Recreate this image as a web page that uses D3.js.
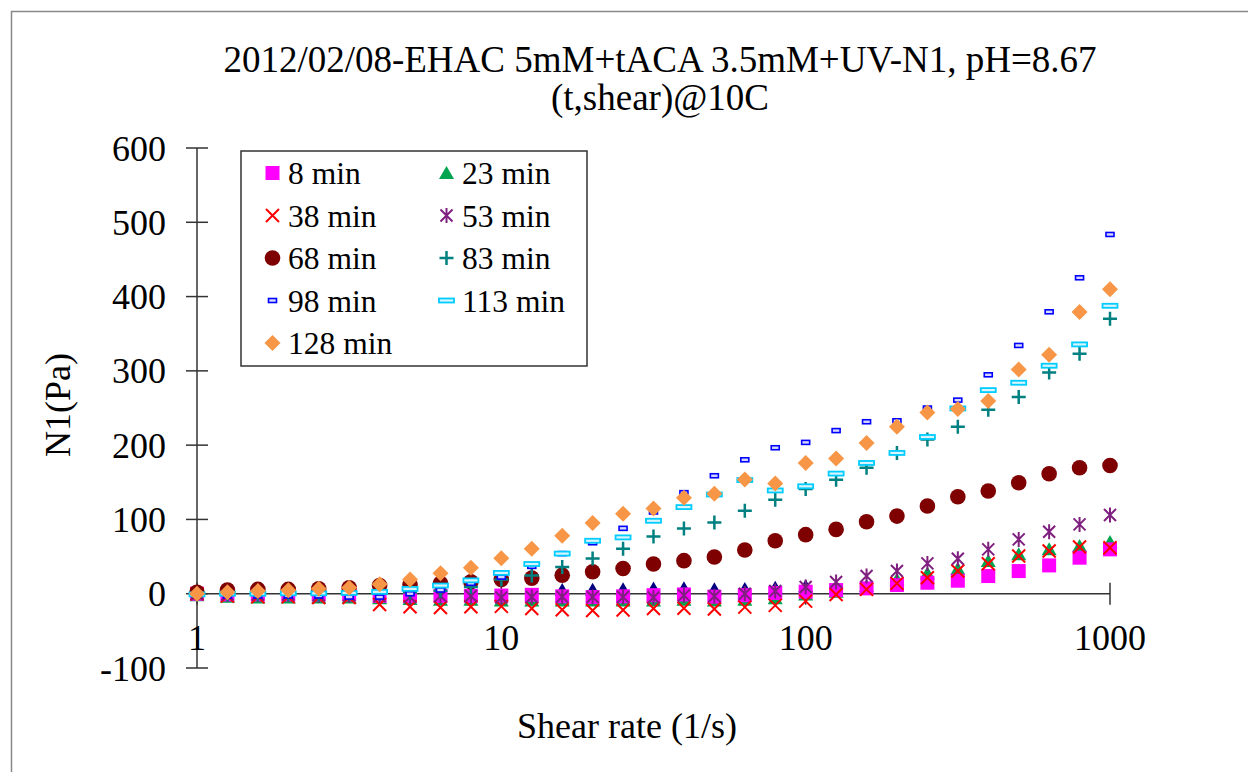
<!DOCTYPE html>
<html>
<head>
<meta charset="utf-8">
<script src="https://cdn.jsdelivr.net/npm/d3@7"></script>
<style>
  body { margin: 0; background: #fff; }
  svg { display: block; font-family: "Liberation Serif", "Times New Roman", serif; }
</style>
</head>
<body>
<div id="chart"></div>
<script>
// N1 vs shear rate, measured at several times after UV exposure.
const shearRate = [1, 1.259, 1.585, 1.995, 2.512, 3.162, 3.981, 5.012, 6.31, 7.943,
  10, 12.59, 15.85, 19.95, 25.12, 31.62, 39.81, 50.12, 63.1, 79.43,
  100, 125.9, 158.5, 199.5, 251.2, 316.2, 398.1, 501.2, 631, 794.3, 1000];

const n1_8min = [0, -1, -1, -1, -1, -1, -3, -3, -3, -3,
  -2.5, -1.5, -3.5, -4.5, -3.5, -2, -1, -4, -2, 1,
  2.7, 4.9, 7.2, 11.7, 14.8, 17.5, 23.8, 30.5, 38.1, 48.5, 59.7];
const n1_23min = [-2, -4, -5, -5, -5, -5, -6, -7, -8, -8,
  -9, -9, -9, -9, -9, -9, -8, -9, -8, -6,
  -1, 2.7, 10.3, 19.3, 27.4, 33.6, 44, 53, 59.7, 64.2, 69.5];
const n1_38min = [0, -3, -4, -4, -5, -5, -14.5, -17.5, -18.5, -17.5,
  -17, -20, -21.5, -22.5, -22, -20, -19.5, -20.5, -18, -15.7,
  -10, -1, 5.8, 13.9, 21.5, 30.5, 40.4, 50.7, 57.4, 62.8, 61.9];
const n1_53min = [0, -1, -1, -1, -2, -2, -3, -4.5, -3, -3,
  -5, -4.5, -4, -4.5, -4.5, -5, -2.2, -3.5, 0, 3.6,
  9, 15.7, 23.8, 30.5, 40.8, 47.1, 59.7, 73.1, 83.4, 93.3, 105.9];
const n1_68min = [2, 5, 5.8, 5.8, 6.7, 8, 11, 12, 14, 16,
  19, 21, 25, 29.6, 34, 40, 44.5, 49.5, 58.8, 71.3,
  79.5, 86.6, 96.9, 104.5, 118, 130.5, 138.2, 149.4, 161.5, 169.6, 172.5];
const n1_83min = [0, -1, -1, -1, -1, 0, 0, 2, 4, 9,
  19.3, 24.5, 36, 47.5, 60.5, 77, 87.8, 96, 111.7, 126.5,
  141, 153.5, 169.4, 189.5, 207.5, 224.6, 247.6, 264.7, 297.9, 323, 370.1];
const n1_98min = [-2, -3, -3, -3, -3, -4.5, -4.5, 0, 5, 14,
  22.4, 36.8, 54, 68.6, 88, 110, 136, 158.8, 180.3, 196.5,
  203.7, 219.6, 231.5, 232.8, 249.9, 260.6, 294.7, 334.2, 379.5, 425.3, 483.6];
const n1_113min = [-1, 0, 0, 0.5, 0.5, 1, 2.5, 6.5, 11, 18,
  28, 40, 54, 71.3, 75.8, 98.2, 116.6, 133.5, 153, 139,
  144.6, 161.7, 176, 189.5, 211, 249.4, 274.1, 284, 306.9, 335.6, 387.6];
const n1_128min = [0, 2, 3.6, 4.5, 6.7, 8, 12.6, 19, 27.6, 35,
  47.6, 60.6, 78, 95.1, 107.7, 114.8, 129.2, 134.6, 153.9, 148.5,
  176, 182, 203, 224.8, 244, 248.5, 259.3, 301.9, 321.7, 379.1, 410];
// unnamed series (navy triangles) peeking out behind the squares, no legend entry
const n1_unnamed = [null, null, null, null, null, null, null, null, null, null,
  null, null, 5, 5.5, 6, 7, 7.5, 6, 6.5, 8,
  10, null, null, null, null, null, null, null, null, null, null];

const xTicks = [1, 10, 100, 1000];
const yTicks = [-100, 0, 100, 200, 300, 400, 500, 600];

const series = [
  {name: null, values: n1_unnamed, marker: 'triangle', color: '#000080'},
  {name: '23 min', values: n1_23min, marker: 'triangle', color: '#00a550'},
  {name: '8 min', values: n1_8min, marker: 'square', color: '#ff00ff'},
  {name: '38 min', values: n1_38min, marker: 'x', color: '#ff0000'},
  {name: '53 min', values: n1_53min, marker: 'asterisk', color: '#7f1f7f'},
  {name: '68 min', values: n1_68min, marker: 'circle', color: '#7f0000'},
  {name: '83 min', values: n1_83min, marker: 'plus', color: '#008080'},
  {name: '98 min', values: n1_98min, marker: 'dashShort', color: '#0000ff'},
  {name: '113 min', values: n1_113min, marker: 'dashLong', color: '#00ccff'},
  {name: '128 min', values: n1_128min, marker: 'diamond', color: '#f79646'}
];
const legendOrder = ['8 min', '23 min', '38 min', '53 min', '68 min', '83 min', '98 min', '113 min', '128 min'];

const W = 1248, H = 772;
const svg = d3.select('#chart').append('svg').attr('width', W).attr('height', H);
svg.append('rect').attr('width', W).attr('height', H).attr('fill', '#fff');
// chart area border (runs off the right and bottom edges)
svg.append('rect').attr('x', 11.5).attr('y', 11.5).attr('width', 1250).attr('height', 780)
  .attr('fill', 'none').attr('stroke', '#888').attr('stroke-width', 1.5);

const x = d3.scaleLog().domain([1, 1000]).range([197, 1110]);
const y = d3.scaleLinear().domain([-100, 600]).range([668, 148]);

// Draw one marker of the given kind into g (centred at 0,0).
function drawMarker(g, kind, color){
  switch(kind){
    case 'square':
      g.append('rect').attr('x', -7).attr('y', -7).attr('width', 14).attr('height', 14).attr('fill', color);
      break;
    case 'triangle':
      g.append('path').attr('d', 'M0,-7L7.5,6L-7.5,6Z').attr('fill', color);
      break;
    case 'x':
      g.append('path').attr('d', 'M-6.5,-6.5L6.5,6.5M-6.5,6.5L6.5,-6.5')
        .attr('stroke', color).attr('stroke-width', 2).attr('fill', 'none');
      break;
    case 'asterisk':
      g.append('path').attr('d', 'M-6,-6L6,6M-6,6L6,-6M0,-7.5L0,7.5')
        .attr('stroke', color).attr('stroke-width', 2).attr('fill', 'none');
      break;
    case 'circle':
      g.append('circle').attr('r', 7.8).attr('fill', color);
      break;
    case 'plus':
      g.append('path').attr('d', 'M-7,0L7,0M0,-7L0,7')
        .attr('stroke', color).attr('stroke-width', 2.5).attr('fill', 'none');
      break;
    case 'dashShort':
      g.append('rect').attr('x', -4).attr('y', -2).attr('width', 8).attr('height', 4)
        .attr('fill', '#d8d8ff').attr('stroke', color).attr('stroke-width', 1.6);
      break;
    case 'dashLong':
      g.append('rect').attr('x', -7.5).attr('y', -2).attr('width', 15).attr('height', 4)
        .attr('fill', '#d8f4ff').attr('stroke', color).attr('stroke-width', 1.8);
      break;
    case 'diamond':
      g.append('path').attr('d', 'M0,-8L8,0L0,8L-8,0Z').attr('fill', color);
      break;
  }
}

// Axes: value axis crosses at shear rate 1, category axis at N1 = 0.
const axes = svg.append('g').attr('stroke', '#333').attr('stroke-width', 1.5);
axes.append('line').attr('x1', x(1)).attr('x2', x(1)).attr('y1', y(600)).attr('y2', y(-100));
axes.append('line').attr('x1', x(1)).attr('x2', x(1000)).attr('y1', y(0)).attr('y2', y(0));
axes.selectAll('line.ytick').data(yTicks).join('line').attr('class', 'ytick')
  .attr('x1', x(1) - 11).attr('x2', x(1) + 11).attr('y1', d => y(d)).attr('y2', d => y(d));
axes.selectAll('line.xtick').data(xTicks).join('line').attr('class', 'xtick')
  .attr('x1', d => x(d)).attr('x2', d => x(d)).attr('y1', y(0) - 11).attr('y2', y(0) + 11);

// Points
const plot = svg.append('g');
series.forEach(s => {
  const pts = s.values.map((v, i) => ({sr: shearRate[i], v})).filter(d => d.v != null);
  pts.forEach(d => {
    const g = plot.append('g').attr('transform', `translate(${x(d.sr)},${y(d.v)})`);
    drawMarker(g, s.marker, s.color);
  });
});

// Tick labels
svg.selectAll('text.ylab').data(yTicks).join('text').attr('class', 'ylab')
  .attr('x', 166).attr('y', d => y(d)).attr('dy', '0.35em')
  .attr('text-anchor', 'end').attr('font-size', 36).text(d => d);
svg.selectAll('text.xlab').data(xTicks).join('text').attr('class', 'xlab')
  .attr('x', d => x(d)).attr('y', 650)
  .attr('text-anchor', 'middle').attr('font-size', 36).text(d => d);

// Titles
svg.append('text').attr('x', 660).attr('y', 72).attr('text-anchor', 'middle').attr('font-size', 37)
  .text('2012/02/08-EHAC 5mM+tACA 3.5mM+UV-N1, pH=8.67');
svg.append('text').attr('x', 660).attr('y', 110).attr('text-anchor', 'middle').attr('font-size', 37)
  .text('(t,shear)@10C');
svg.append('text').attr('x', 627).attr('y', 738).attr('text-anchor', 'middle').attr('font-size', 36)
  .text('Shear rate (1/s)');
svg.append('text').attr('transform', 'translate(70,405) rotate(-90)').attr('text-anchor', 'middle')
  .attr('font-size', 36).text('N1(Pa)');

// Legend, two columns
const legend = svg.append('g');
legend.append('rect').attr('x', 241).attr('y', 151).attr('width', 346).attr('height', 215)
  .attr('fill', '#fff').attr('stroke', '#333').attr('stroke-width', 1.5);
legendOrder.forEach((name, k) => {
  const s = series.find(d => d.name === name);
  const col = k % 2, row = Math.floor(k / 2);
  const cx = col ? 446.5 : 272.5;
  const cy = 173 + row * 42.5;
  drawMarker(legend.append('g').attr('transform', `translate(${cx},${cy})`), s.marker, s.color);
  legend.append('text').attr('x', col ? 462 : 288).attr('y', cy).attr('dy', '0.35em')
    .attr('font-size', 31.5).text(name);
});
</script>
</body>
</html>
